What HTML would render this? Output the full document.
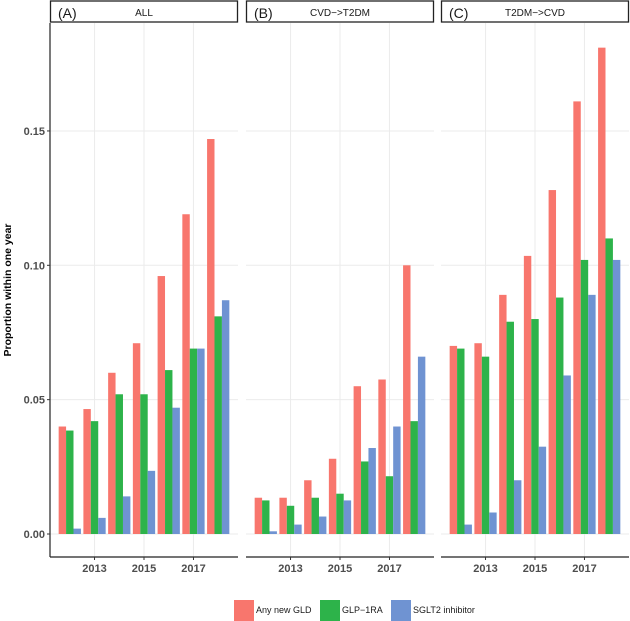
<!DOCTYPE html>
<html><head><meta charset="utf-8"><style>
body{margin:0;background:#fff;}
svg{display:block;font-family:"Liberation Sans",Arial,sans-serif;}
</style></head><body>
<svg id="chart" width="630" height="621" viewBox="0 0 630 621" xmlns="http://www.w3.org/2000/svg"></svg>
<script>
const years = [2012, 2013, 2014, 2015, 2016, 2017, 2018];
const panels = ["(A)", "(B)", "(C)"];
const panelTitles = ["ALL", "CVD\u2212>T2DM", "T2DM\u2212>CVD"];
const seriesNames = ["Any new GLD", "GLP\u22121RA", "SGLT2 inhibitor"];
const anyA = [0.040, 0.0465, 0.060, 0.071, 0.096, 0.119, 0.147];
const glpA = [0.0385, 0.042, 0.052, 0.052, 0.061, 0.069, 0.081];
const sgltA = [0.002, 0.006, 0.014, 0.0235, 0.047, 0.069, 0.087];
const anyB = [0.0135, 0.0135, 0.020, 0.028, 0.055, 0.0575, 0.100];
const glpB = [0.0125, 0.0105, 0.0135, 0.015, 0.027, 0.0215, 0.042];
const sgltB = [0.001, 0.0035, 0.0065, 0.0125, 0.032, 0.040, 0.066];
const anyC = [0.070, 0.071, 0.089, 0.1035, 0.128, 0.161, 0.181];
const glpC = [0.069, 0.066, 0.079, 0.080, 0.088, 0.102, 0.110];
const sgltC = [0.0035, 0.008, 0.020, 0.0325, 0.059, 0.089, 0.102];
const yTicks = [0, 0.05, 0.10, 0.15];
const yTickLabels = ["0.00", "0.05", "0.10", "0.15"];
const xTicks = [2013, 2015, 2017];

const colors = ["#F8766D", "#2DB34A", "#6F93D2"];
const panelData = [[anyA, glpA, sgltA], [anyB, glpB, sgltB], [anyC, glpC, sgltC]];
const panelX = [50, 246, 441];
const panelW = 188;
const plotTop = 23, plotBottom = 557;
const ns = "http://www.w3.org/2000/svg";
const svg = document.getElementById("chart");
function el(tag, attrs, parent) {
  const e = document.createElementNS(ns, tag);
  for (const k in attrs) e.setAttribute(k, attrs[k]);
  (parent || svg).appendChild(e);
  return e;
}
const yScale = v => 534 - v * 2687;
const xMin = 2011.2, xMax = 2018.8;

panels.forEach((p, pi) => {
  const x0 = panelX[pi];
  const xs = v => x0 + (v - xMin) / (xMax - xMin) * panelW;
  const g = el("g", {});
  
  
  yTicks.forEach(t => {
    const l = el("line", {x1: x0, x2: x0 + panelW, y1: yScale(t), y2: yScale(t), stroke: "#ebebeb", "stroke-width": 1}, g);
    
    
  });
  xTicks.forEach(t => {
    const l = el("line", {x1: xs(t), x2: xs(t), y1: plotTop, y2: plotBottom, stroke: "#ebebeb", "stroke-width": 1}, g);
    
    
  });
  const gw = 0.9 * panelW / (xMax - xMin);
  const bw = gw / 3;
  panelData[pi].forEach((series, si) => {
    series.forEach((v, yi) => {
      const bx = xs(years[yi]) - gw / 2 + si * bw;
      const r = el("rect", {x: bx, y: yScale(v), width: bw, height: yScale(0) - yScale(v), fill: colors[si]}, g);
      
      
    });
  });
  const s = el("rect", {x: x0 + 0.5, y: 1, width: panelW - 1, height: 21, fill: "#fff", stroke: "#222", "stroke-width": 1.3}, g);
  
  
  const tl = el("text", {x: x0 + 8, y: 18, "font-size": 14, fill: "#1a1a1a"}, g);
  tl.textContent = p;
  
  
  const tt = el("text", {x: x0 + panelW / 2, y: 16, "font-size": 10, fill: "#1a1a1a", "text-anchor": "middle"}, g);
  tt.textContent = panelTitles[pi];
  
  
  const ax = el("line", {x1: x0, x2: x0 + panelW, y1: plotBottom, y2: plotBottom, stroke: "#222", "stroke-width": 1.2}, g);
  
  
  xTicks.forEach(t => {
    const tk = el("line", {x1: xs(t), x2: xs(t), y1: plotBottom, y2: plotBottom + 3, stroke: "#333"}, g);
    
    
    const lb = el("text", {x: xs(t), y: plotBottom + 15, "font-size": 11, "font-weight": "bold", fill: "#4d4d4d", "text-anchor": "middle"}, g);
    lb.textContent = t;
    
    
  });
});
const yl = el("line", {x1: 50, x2: 50, y1: plotTop, y2: plotBottom, stroke: "#222", "stroke-width": 1.2});


yTicks.forEach((t, i) => {
  const tk = el("line", {x1: 47, x2: 50, y1: yScale(t), y2: yScale(t), stroke: "#333"});
  
  
  const lb = el("text", {x: 45, y: yScale(t) + 4, "font-size": 11, "font-weight": "bold", fill: "#4d4d4d", "text-anchor": "end"});
  lb.textContent = yTickLabels[i];
  
  
});
const yt = el("text", {x: 0, y: 0, "font-size": 10.5, "font-weight": "bold", fill: "#000", "text-anchor": "middle", transform: "translate(11,290) rotate(-90)"});
yt.textContent = "Proportion within one year";


const legX = [234, 320, 391];
seriesNames.forEach((n, i) => {
  const k = el("rect", {x: legX[i], y: 600, width: 20, height: 21, fill: colors[i]});
  
  
  const t = el("text", {x: legX[i] + 22, y: 613, "font-size": 9, fill: "#1a1a1a"});
  t.textContent = n;
  
  
});
</script>
</body></html>
